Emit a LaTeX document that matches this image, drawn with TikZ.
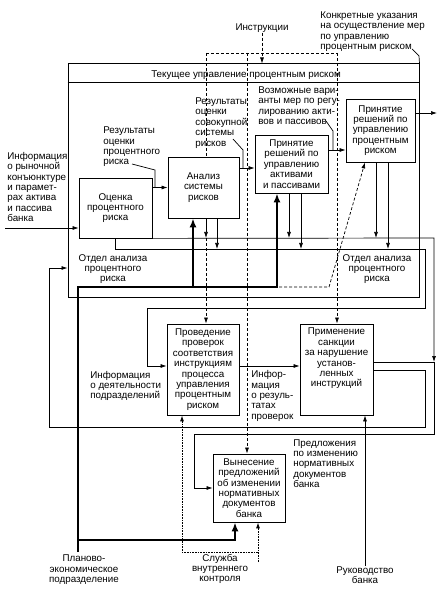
\documentclass[tikz,border=0pt]{standalone}
\usepackage{fontspec}
\setmainfont{Liberation Sans}
\usepackage{tikz}
\usetikzlibrary{arrows.meta,calc,positioning}

\begin{document}
\begin{tikzpicture}[x=1pt,y=-1pt,font=\fontsize{9.8}{10.4}\selectfont,
	every path/.style={line width=0.7pt},
	box/.style={draw,fill=white,align=center,inner sep=0pt,line width=0.8pt},
	lbl/.style={align=left,inner sep=0pt,anchor=west},
	ttl/.style={align=center,inner sep=0pt},
	arr/.style={-{Latex[length=6pt,width=4pt]}},
	ctrl/.style={arr,dash pattern=on 3pt off 2pt},
	mech/.style={line width=2.6pt,-{Latex[length=9pt,width=7pt]}},
	svc/.style={arr,dash pattern=on 0.8pt off 0.8pt,line width=0.9pt}]
	\useasboundingbox (0,0) rectangle (444,601);

	% frame of the current management
	\node[draw,line width=1pt,minimum width=351pt,minimum height=233pt,inner sep=0pt] (frame) at (243.5,180.5) {};
	\draw[line width=1pt] (frame.north west |- 0,83) -- (frame.north east |- 0,83);
	\node[ttl] (title) at (246,75) {Текущее управление процентным риском};

	% boxes
	\node[box,minimum width=73pt,minimum height=60pt] (otsenka) at (115.5,208) {Оценка\\процентного\\риска};
	\node[box,minimum width=71pt,minimum height=61pt] (analiz) at (203.5,187.5) {Анализ\\системы\\рисков};
	\node[box,minimum width=73pt,minimum height=58pt] (aip) at (291.5,164) {Принятие\\решений по\\управлению\\активами\\и пассивами};
	\node[box,minimum width=69pt,minimum height=63pt] (pr) at (380.5,130.5) {Принятие\\решений по\\управлению\\процентным\\риском};
	\node[box,minimum width=72pt,minimum height=91pt] (prov) at (203,369.5) {Проведение\\проверок\\соответствия\\инструкциям\\процесса\\управления\\процентным\\риском};
	\node[box,minimum width=73pt,minimum height=91pt] (prim) at (336.5,369.5) {Применение\\санкции\\за нарушение\\установ-\\ленных\\инструкций\\\strut\\\strut};
	\node[box,minimum width=72pt,minimum height=68pt] (vyn) at (249,488) {Вынесение\\предложений\\об изменении\\нормативных\\документов\\банка};

	% labels
	\node[ttl] (instr) at (262,28) {Инструкции};
	\node[lbl] (ukaz) at (320,31.5) {Конкретные указания\\на осуществление мер\\по управлению\\процентным риском};
	\node[lbl] (info) at (7,187) {Информация\\о рыночной\\конъюнктуре\\и парамет-\\рах актива\\и пассива\\банка};
	\node[lbl] (res1) at (103,147) {Результаты\\оценки\\процентного\\риска};
	\node[lbl] (res2) at (195,123) {Результаты\\оценки\\совокупной\\системы\\рисков};
	\node[lbl] (var) at (258,105.5) {Возможные вари-\\анты мер по регу-\\лированию акти-\\вов и пассивов};
	\node[ttl] (otdel1) at (113,269) {Отдел анализа\\процентного\\риска};
	\node[ttl] (otdel2) at (377,269) {Отдел анализа\\процентного\\риска};
	\node[lbl] (deyat) at (90,386) {Информация\\о деятельности\\подразделений};
	\node[lbl] (rezpr) at (251,396) {Инфор-\\мация\\о резуль-\\татах\\проверок};
	\node[lbl] (predl) at (293,463.5) {Предложения\\по изменению\\нормативных\\документов\\банка};
	\node[ttl] (plan) at (84,570) {Планово-\\экономическое\\подразделение};
	\node[ttl] (sluzhba) at (220,569) {Служба\\внутреннего\\контроля};
	\node[ttl] (ruk) at (365,575) {Руководство\\банка};

	% input, output and instructions
	\draw[arr] (5,228) -- (otsenka.west |- 0,228);
	\draw[arr] (pr.east |- 0,113) -- (437,113);
	\draw (412,49) -- (419,56) -- (frame.north east);
	\draw[ctrl] (instr.south) -- (instr.south |- frame.north);
	\draw[dash pattern=on 3pt off 2pt] (206,53) -- (337,53);
	\draw[dash pattern=on 3pt off 2pt] (206,53) -- (206,0 |- analiz.north);
	\draw[ctrl] (206,238) -- (206,0 |- prov.north);
	\draw[ctrl] (247,53) -- (247,0 |- vyn.north);
	\draw[ctrl] (337,53) -- (337,0 |- prim.north);

	% results between the boxes
	\draw[arr] (otsenka.east |- analiz.west) -- (analiz.west);
	\draw[arr] (analiz.east |- 0,168) -- (aip.west |- 0,168);
	\draw[arr] (aip.east |- 0,150) -- (pr.west |- 0,150);
	\draw (132,164) -- (155,170) -- (155,187);
	\draw (233,139) -- (243,150) -- (243,168);
	\draw (326,121) -- (333,131) -- (333,150);

	% analysis department
	\draw[arr] (206,0 |- analiz.south) -- (206,238);
	\draw[arr] (217,0 |- analiz.south) -- (217,249);
	\draw[arr] (289,0 |- aip.south) -- (289,238);
	\draw[arr] (301,0 |- aip.south) -- (301,249);
	\draw[arr] (376,0 |- pr.south) -- (376,238);
	\draw[arr] (388,0 |- pr.south) -- (388,249);
	\draw[arr] (otsenka.south east) -- (434,238) -- (434,362);
	\draw (prim.east |- 0,362) -- (434,362);
	\draw[arr] (434,362) -- (434,434) -- (194,434) |- (vyn.west);
	\draw[arr] (115,0 |- otsenka.south) -- (115,249) -- (425,249) -- (425,308) -- (147,308) |- (prov.west |- 0,366);
	\draw[arr] (prov.east |- 0,366) -- (prim.west |- 0,366);
	\draw[arr] (prim.east |- 0,370) -- (425,370) -- (425,427) -- (49,427) |- (frame.west |- 0,268);

	% planning department
	\draw[mech] (78,552) -- (78,287) -- (277,287) -- (277,0 |- aip.south);
	\draw[mech] (193,287) -- (193,0 |- analiz.south);
	\draw[mech] (78,540) -- (235,540) -- (235,0 |- vyn.south);
	\draw[ctrl] (279,287) -- (329,287) -- (365,0 |- pr.south);

	% internal control and management
	\draw[svc] (258,562) -- (258,0 |- vyn.south);
	\draw[svc] (258,552) -- (182,552) -- (182,0 |- prov.south);
	\draw[arr] (ruk.north) -- (ruk.north |- prim.south);
\end{tikzpicture}
\end{document}
